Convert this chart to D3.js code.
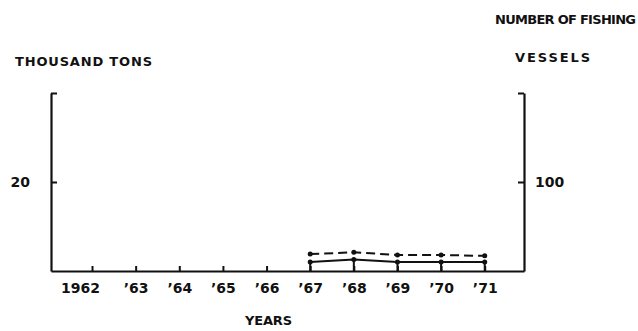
<!DOCTYPE html>
<html>
<head>
<meta charset="utf-8">
<script src="https://cdn.jsdelivr.net/npm/d3@7"></script>
<style>
body{margin:0;background:#fff;}
svg text{font-family:"DejaVu Sans",sans-serif;font-weight:bold;fill:#111;}
</style>
</head>
<body>
<div id="chart"></div>
<script>
var w=638, h=331;
var pad={top:93, bottom:60, left:51, right:114};

// data
var years=[1962,1963,1964,1965,1966,1967,1968,1969,1970,1971];
var yearLabels=["1962","’63","’64","’65","’66","’67","’68","’69","’70","’71"];
var catchYears=[1967,1968,1969,1970,1971];
var catchTons=[2.0,2.6,2.0,2.0,2.0];      // thousand tons (left axis)
var vesselCount=[19,21,18,18,17];         // number of fishing vessels (right axis)
var leftTicks=[20,40];
var rightTicks=[100,200];

var svg=d3.select("#chart").append("svg")
    .attr("width",w)
    .attr("height",h);

var xScale=d3.scaleLinear()
    .domain([1961.06,1971.9])
    .range([pad.left,w-pad.right]);
var yLeft=d3.scaleLinear()
    .domain([0,40])
    .range([h-pad.bottom,pad.top]);
var yRight=d3.scaleLinear()
    .domain([0,200])
    .range([h-pad.bottom,pad.top]);

//Axes
var xAxis=d3.axisBottom(xScale)
    .tickValues(years)
    .tickSize(-5)
    .tickSizeOuter(0)
    .tickPadding(12)
    .tickFormat(function(d,i){return yearLabels[i];});
var gx=svg.append("g")
    .attr("transform","translate(0,"+(h-pad.bottom)+")")
    .call(xAxis);
gx.selectAll("text").attr("font-size",14)
    .attr("dx",function(d,i){return i==0?-12:0;});

var gl=svg.append("g")
    .attr("transform","translate("+pad.left+",0)")
    .call(d3.axisLeft(yLeft).tickValues(leftTicks).tickSize(-6).tickSizeOuter(0).tickPadding(21)
        .tickFormat(function(d){return d==20?"20":"";}));
gl.selectAll("text").attr("font-size",14);

var gr=svg.append("g")
    .attr("transform","translate("+(w-pad.right)+",0)")
    .call(d3.axisRight(yRight).tickValues(rightTicks).tickSize(-6).tickSizeOuter(0).tickPadding(11)
        .tickFormat(function(d){return d==100?"100":"";}));
gr.selectAll("text").attr("font-size",14);

svg.selectAll(".domain, .tick line").attr("stroke","#111").attr("stroke-width",2);
svg.selectAll(".domain").attr("stroke-width",2.2);

//Drop lines under the catch line
svg.append("g").selectAll("line")
    .data(catchTons)
    .enter()
    .append("line")
    .attr("x1",function(d,i){return xScale(catchYears[i]);})
    .attr("x2",function(d,i){return xScale(catchYears[i]);})
    .attr("y1",function(d){return yLeft(d);})
    .attr("y2",yLeft(0))
    .attr("stroke","#111")
    .attr("stroke-width",2);

//Catch line (solid)
var catchLine=d3.line()
    .x(function(d,i){return xScale(catchYears[i]);})
    .y(function(d){return yLeft(d);});
svg.append("path")
    .datum(catchTons)
    .attr("d",catchLine)
    .attr("fill","none")
    .attr("stroke","#111")
    .attr("stroke-width",2);
svg.append("g").selectAll("circle")
    .data(catchTons)
    .enter()
    .append("circle")
    .attr("cx",function(d,i){return xScale(catchYears[i]);})
    .attr("cy",function(d){return yLeft(d);})
    .attr("r",2.5)
    .attr("fill","#111");

//Vessels line (dashed)
var vesselLine=d3.line()
    .x(function(d,i){return xScale(catchYears[i]);})
    .y(function(d){return yRight(d);});
svg.append("path")
    .datum(vesselCount)
    .attr("d",vesselLine)
    .attr("fill","none")
    .attr("stroke","#111")
    .attr("stroke-width",2)
    .attr("stroke-dasharray","9,5");
svg.append("g").selectAll("circle")
    .data(vesselCount)
    .enter()
    .append("circle")
    .attr("cx",function(d,i){return xScale(catchYears[i]);})
    .attr("cy",function(d){return yRight(d);})
    .attr("r",2.5)
    .attr("fill","#111");

//Axis titles
svg.append("text")
    .attr("x",15).attr("y",66)
    .attr("font-size",13)
    .attr("textLength",137).attr("lengthAdjust","spacing")
    .text("THOUSAND TONS");
svg.append("text")
    .attr("x",495).attr("y",24)
    .attr("font-size",13)
    .attr("textLength",141).attr("lengthAdjust","spacing")
    .text("NUMBER OF FISHING");
svg.append("text")
    .attr("x",515).attr("y",62)
    .attr("font-size",13)
    .attr("textLength",75).attr("lengthAdjust","spacing")
    .text("VESSELS");
svg.append("text")
    .attr("x",245).attr("y",325)
    .attr("font-size",13)
    .attr("textLength",47).attr("lengthAdjust","spacing")
    .text("YEARS");
</script>
</body>
</html>
